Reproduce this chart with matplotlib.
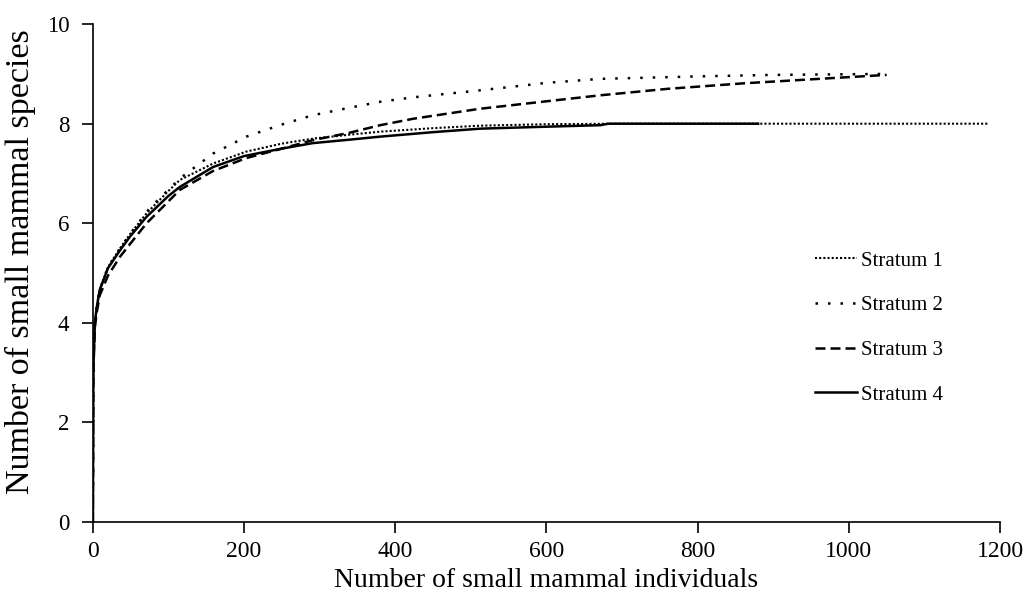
import numpy as np
import matplotlib.pyplot as plt
from matplotlib import rcParams

rcParams['font.family'] = 'Liberation Serif'
rcParams['axes.linewidth'] = 1.2

# rarefaction curves
s1_x = [0, 0.5, 1, 2.6, 5, 9, 20, 36, 50, 71, 100, 115, 159, 203, 250, 291, 340, 380, 450, 512, 600, 700, 900, 1185]
s1_y = [0, 2.8, 3.3, 4.0, 4.3, 4.66, 5.12, 5.5, 5.8, 6.2, 6.65, 6.87, 7.2, 7.44, 7.6, 7.7, 7.78, 7.84, 7.91, 7.96, 7.99, 8.0, 8.0, 8.0]

s2_x = [0, 0.5, 1, 2.6, 5, 9, 20, 36, 50, 75, 115, 159, 203, 247, 291, 336, 380, 424, 512, 600, 671, 800, 900, 1050]
s2_y = [0, 2.8, 3.3, 4.0, 4.3, 4.66, 5.12, 5.5, 5.8, 6.3, 6.9, 7.4, 7.74, 7.97, 8.17, 8.31, 8.44, 8.53, 8.67, 8.82, 8.9, 8.95, 8.98, 9.0]

s3_x = [0, 0.5, 1, 2.6, 5, 9, 20, 36, 50, 71, 115, 159, 203, 250, 291, 340, 380, 424, 512, 600, 671, 760, 860, 960, 1050]
s3_y = [0, 2.7, 3.2, 3.9, 4.2, 4.55, 4.95, 5.33, 5.6, 6.0, 6.67, 7.05, 7.31, 7.5, 7.67, 7.82, 7.97, 8.1, 8.3, 8.45, 8.57, 8.7, 8.81, 8.9, 8.98]

s4_x = [0, 0.5, 1, 2.6, 5, 9, 20, 36, 50, 71, 100, 115, 159, 200, 250, 291, 340, 380, 450, 512, 600, 671, 682, 880]
s4_y = [0, 2.8, 3.3, 4.0, 4.3, 4.66, 5.1, 5.46, 5.75, 6.13, 6.55, 6.73, 7.13, 7.35, 7.5, 7.61, 7.68, 7.74, 7.83, 7.9, 7.94, 7.97, 8.0, 8.0]

labels = ['Stratum 1', 'Stratum 2', 'Stratum 3', 'Stratum 4']

fig = plt.figure(figsize=(10.32, 5.97), dpi=100)
ax = fig.add_axes([0.090, 0.1256, 0.879, 0.834])

ax.plot(s1_x, s1_y, color='black', lw=1.5, linestyle=(0, (1, 1)), label=labels[0])
ax.plot(s2_x, s2_y, color='black', lw=1.8, linestyle=(0, (1, 4)), label=labels[1])
ax.plot(s3_x, s3_y, color='black', lw=1.8, linestyle=(0, (4, 2)), label=labels[2])
ax.plot(s4_x, s4_y, color='black', lw=1.8, linestyle='-', label=labels[3])

ax.set_xlim(0, 1200)
ax.set_ylim(0, 10)
ax.set_xticks(np.arange(0, 1201, 200))
ax.set_yticks(np.arange(0, 11, 2))
ax.spines['top'].set_visible(False)
ax.spines['right'].set_visible(False)
ax.tick_params(direction='out', length=8, width=1.2)
ax.tick_params(axis='x', labelsize=17, pad=6)
ax.tick_params(axis='y', labelsize=16.5, pad=9)

ax.set_xlabel('Number of small mammal individuals', size=20, labelpad=4)
ax.set_ylabel('Number of small mammal species', size=24.5, labelpad=8)
ax.yaxis.label.set_y(0.522)

ax.legend(loc='center left', bbox_to_anchor=(0.796, 0.39), frameon=False,
          fontsize=15, handlelength=2.0, handletextpad=0.2, labelspacing=1.2,
          borderpad=0, borderaxespad=0)

plt.savefig('out.png', dpi=100)
